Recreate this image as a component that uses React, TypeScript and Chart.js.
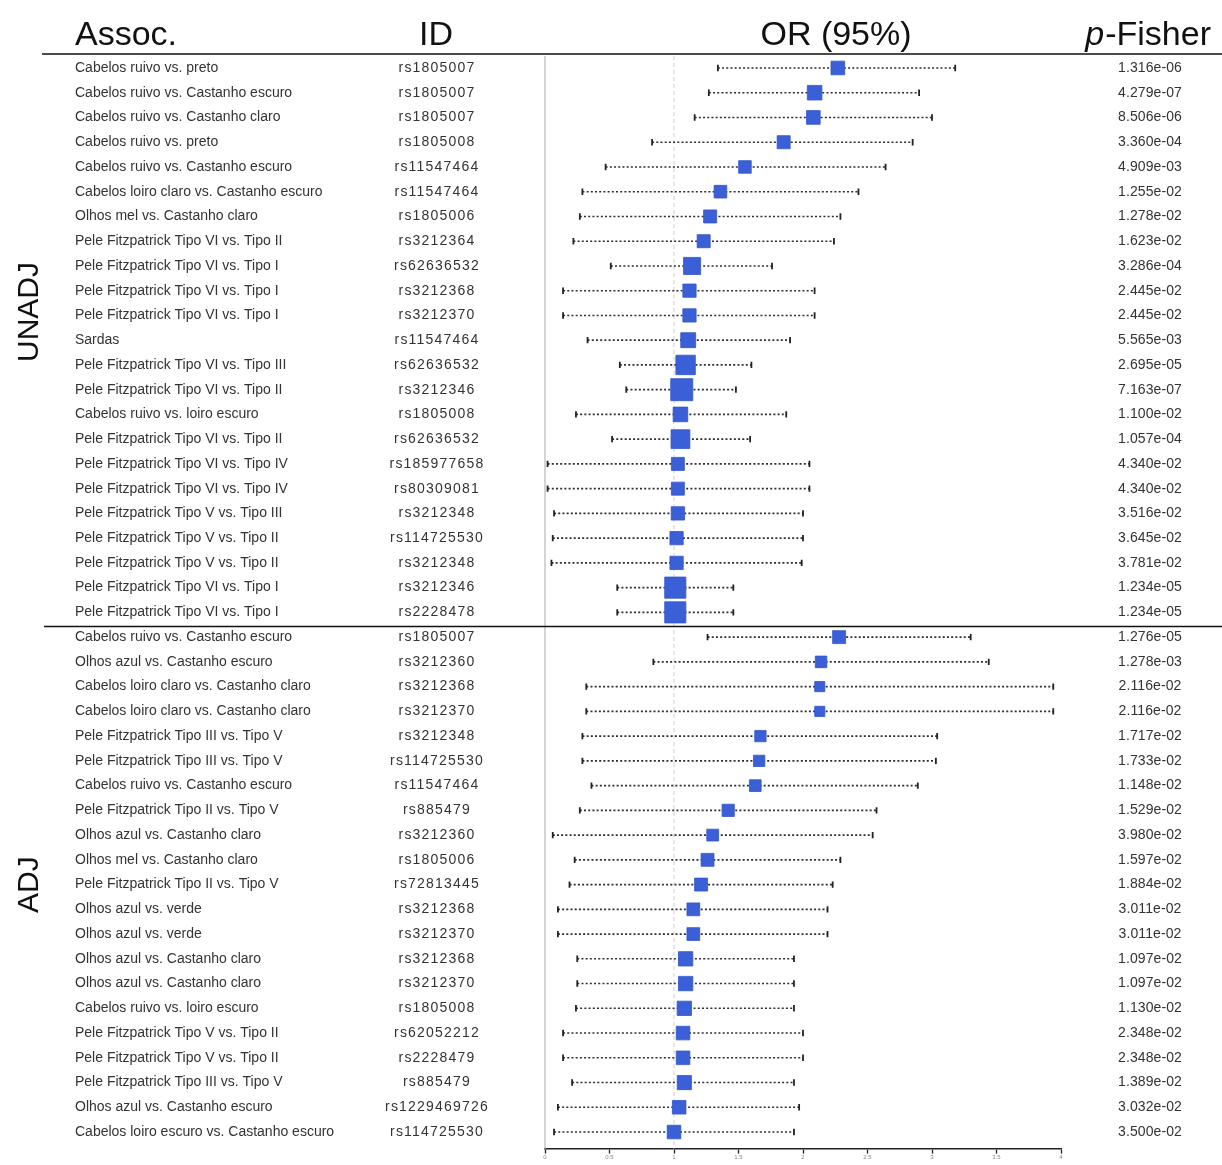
import React, { useEffect, useRef } from 'react';
import { Chart, registerables } from 'chart.js';

Chart.register(...registerables);

// ---------- DATA ----------
const headers = ['Assoc.', 'ID', 'OR (95%)', 'p-Fisher'];
const groupLabels = ['UNADJ', 'ADJ'];
const xTickValues = [0, 0.5, 1, 1.5, 2, 2.5, 3, 3.5, 4];

const unadjAssoc = [
  'Cabelos ruivo vs. preto',
  'Cabelos ruivo vs. Castanho escuro',
  'Cabelos ruivo vs. Castanho claro',
  'Cabelos ruivo vs. preto',
  'Cabelos ruivo vs. Castanho escuro',
  'Cabelos loiro claro vs. Castanho escuro',
  'Olhos mel vs. Castanho claro',
  'Pele Fitzpatrick Tipo VI vs. Tipo II',
  'Pele Fitzpatrick Tipo VI vs. Tipo I',
  'Pele Fitzpatrick Tipo VI vs. Tipo I',
  'Pele Fitzpatrick Tipo VI vs. Tipo I',
  'Sardas',
  'Pele Fitzpatrick Tipo VI vs. Tipo III',
  'Pele Fitzpatrick Tipo VI vs. Tipo II',
  'Cabelos ruivo vs. loiro escuro',
  'Pele Fitzpatrick Tipo VI vs. Tipo II',
  'Pele Fitzpatrick Tipo VI vs. Tipo IV',
  'Pele Fitzpatrick Tipo VI vs. Tipo IV',
  'Pele Fitzpatrick Tipo V vs. Tipo III',
  'Pele Fitzpatrick Tipo V vs. Tipo II',
  'Pele Fitzpatrick Tipo V vs. Tipo II',
  'Pele Fitzpatrick Tipo VI vs. Tipo I',
  'Pele Fitzpatrick Tipo VI vs. Tipo I',
];
const unadjIds = [
  'rs1805007', 'rs1805007', 'rs1805007', 'rs1805008', 'rs11547464', 'rs11547464',
  'rs1805006', 'rs3212364', 'rs62636532', 'rs3212368', 'rs3212370', 'rs11547464',
  'rs62636532', 'rs3212346', 'rs1805008', 'rs62636532', 'rs185977658', 'rs80309081',
  'rs3212348', 'rs114725530', 'rs3212348', 'rs3212346', 'rs2228478',
];
const unadjOR = [2.27, 2.09, 2.08, 1.85, 1.55, 1.36, 1.28, 1.23, 1.14, 1.12, 1.12, 1.11, 1.09, 1.06, 1.05, 1.05, 1.03, 1.03, 1.03, 1.02, 1.02, 1.01, 1.01];
const unadjLow = [1.34, 1.27, 1.16, 0.83, 0.47, 0.29, 0.27, 0.22, 0.51, 0.14, 0.14, 0.33, 0.58, 0.63, 0.24, 0.52, 0.02, 0.02, 0.07, 0.06, 0.05, 0.56, 0.56];
const unadjHigh = [3.18, 2.9, 3.0, 2.85, 2.64, 2.43, 2.29, 2.24, 1.76, 2.09, 2.09, 1.9, 1.6, 1.48, 1.87, 1.59, 2.05, 2.05, 2.0, 2.0, 1.99, 1.46, 1.46];
const unadjP = [
  '1.316e-06', '4.279e-07', '8.506e-06', '3.360e-04', '4.909e-03', '1.255e-02',
  '1.278e-02', '1.623e-02', '3.286e-04', '2.445e-02', '2.445e-02', '5.565e-03',
  '2.695e-05', '7.163e-07', '1.100e-02', '1.057e-04', '4.340e-02', '4.340e-02',
  '3.516e-02', '3.645e-02', '3.781e-02', '1.234e-05', '1.234e-05',
];

const adjAssoc = [
  'Cabelos ruivo vs. Castanho escuro',
  'Olhos azul vs. Castanho escuro',
  'Cabelos loiro claro vs. Castanho claro',
  'Cabelos loiro claro vs. Castanho claro',
  'Pele Fitzpatrick Tipo III vs. Tipo V',
  'Pele Fitzpatrick Tipo III vs. Tipo V',
  'Cabelos ruivo vs. Castanho escuro',
  'Pele Fitzpatrick Tipo II vs. Tipo V',
  'Olhos azul vs. Castanho claro',
  'Olhos mel vs. Castanho claro',
  'Pele Fitzpatrick Tipo II vs. Tipo V',
  'Olhos azul vs. verde',
  'Olhos azul vs. verde',
  'Olhos azul vs. Castanho claro',
  'Olhos azul vs. Castanho claro',
  'Cabelos ruivo vs. loiro escuro',
  'Pele Fitzpatrick Tipo V vs. Tipo II',
  'Pele Fitzpatrick Tipo V vs. Tipo II',
  'Pele Fitzpatrick Tipo III vs. Tipo V',
  'Olhos azul vs. Castanho escuro',
  'Cabelos loiro escuro vs. Castanho escuro',
];
const adjIds = [
  'rs1805007', 'rs3212360', 'rs3212368', 'rs3212370', 'rs3212348', 'rs114725530',
  'rs11547464', 'rs885479', 'rs3212360', 'rs1805006', 'rs72813445', 'rs3212368',
  'rs3212370', 'rs3212368', 'rs3212370', 'rs1805008', 'rs62052212', 'rs2228479',
  'rs885479', 'rs1229469726', 'rs114725530',
];
const adjOR = [2.28, 2.14, 2.13, 2.13, 1.67, 1.66, 1.63, 1.42, 1.3, 1.26, 1.21, 1.15, 1.15, 1.09, 1.09, 1.08, 1.07, 1.07, 1.08, 1.04, 1.0];
const adjLow = [1.26, 0.84, 0.32, 0.32, 0.29, 0.29, 0.36, 0.27, 0.06, 0.23, 0.19, 0.1, 0.1, 0.25, 0.25, 0.24, 0.14, 0.14, 0.21, 0.1, 0.07];
const adjHigh = [3.3, 3.44, 3.94, 3.94, 3.04, 3.03, 2.89, 2.57, 2.54, 2.29, 2.23, 2.19, 2.19, 1.93, 1.93, 1.93, 2.0, 2.0, 1.93, 1.97, 1.93];
const adjP = [
  '1.276e-05', '1.278e-03', '2.116e-02', '2.116e-02', '1.717e-02', '1.733e-02',
  '1.148e-02', '1.529e-02', '3.980e-02', '1.597e-02', '1.884e-02', '3.011e-02',
  '3.011e-02', '1.097e-02', '1.097e-02', '1.130e-02', '2.348e-02', '2.348e-02',
  '1.389e-02', '3.032e-02', '3.500e-02',
];

// ---------- COMBINED ----------
const assoc = [...unadjAssoc, ...adjAssoc];
const ids = [...unadjIds, ...adjIds];
const ors = [...unadjOR, ...adjOR];
const lows = [...unadjLow, ...adjLow];
const highs = [...unadjHigh, ...adjHigh];
const pvals = [...unadjP, ...adjP];

const TEXT_FONT = "'Liberation Sans', Arial, sans-serif";
const BLUE = '#3b5fd6';

export default function App() {
  const ref = useRef<HTMLCanvasElement | null>(null);

  useEffect(() => {
    if (!ref.current) return;
    const nUnadj = unadjOR.length;

    const boxSides = ors.map((_, i) => 6.5 + 13.2 / (highs[i] - lows[i]));

    const whiskerSets = lows.map((lo, i) => ({
      type: 'scatter' as const,
      showLine: true,
      data: [
        { x: lo, y: i },
        { x: highs[i], y: i },
      ],
      borderColor: '#2e2e2e',
      borderWidth: 1.6,
      borderDash: [2, 2.2],
      pointStyle: 'line' as const,
      rotation: 90,
      pointRadius: 3.2,
      pointBorderColor: '#222',
      pointBorderWidth: 1.8,
      pointBackgroundColor: '#222',
      order: 2,
    }));

    const bgPlugin = {
      id: 'forestBg',
      beforeDatasetsDraw(chart: any) {
        const { ctx, chartArea, scales } = chart;
        const x0 = scales.x.getPixelForValue(0);
        const x1 = scales.x.getPixelForValue(1);
        ctx.save();
        ctx.strokeStyle = '#d4d4d4';
        ctx.lineWidth = 2;
        ctx.beginPath();
        ctx.moveTo(x0, chartArea.top + 1);
        ctx.lineTo(x0, chartArea.bottom);
        ctx.stroke();
        ctx.strokeStyle = '#cfcfcf';
        ctx.lineWidth = 1;
        ctx.setLineDash([4, 3]);
        ctx.beginPath();
        ctx.moveTo(x1, chartArea.top + 1);
        ctx.lineTo(x1, chartArea.bottom);
        ctx.stroke();
        ctx.restore();
      },
    };

    const textPlugin = {
      id: 'forestText',
      afterDraw(chart: any) {
        const { ctx, scales } = chart;
        const y = scales.y;
        ctx.save();
        // headers
        ctx.fillStyle = '#111';
        ctx.textBaseline = 'alphabetic';
        ctx.font = `34px ${TEXT_FONT}`;
        ctx.textAlign = 'left';
        ctx.fillText(headers[0], 75, 45);
        ctx.textAlign = 'center';
        ctx.fillText(headers[1], 436, 45);
        ctx.fillText(headers[2], 836, 45);
        // p-Fisher with italic p
        const rest = headers[3].slice(1);
        ctx.textAlign = 'left';
        ctx.font = `34px ${TEXT_FONT}`;
        const wRest = ctx.measureText(rest).width;
        ctx.font = `italic 34px ${TEXT_FONT}`;
        const wP = ctx.measureText(headers[3][0]).width;
        const startX = 1210 - wRest - wP;
        ctx.fillText(headers[3][0], startX, 45);
        ctx.font = `34px ${TEXT_FONT}`;
        ctx.fillText(rest, startX + wP + 1, 45);

        // rules
        ctx.strokeStyle = '#111';
        ctx.lineWidth = 1.6;
        ctx.beginPath();
        ctx.moveTo(42, 54);
        ctx.lineTo(1222, 54);
        const sepY = Math.round(y.getPixelForValue(nUnadj - 0.5)) + 1.5;
        ctx.moveTo(44, sepY);
        ctx.lineTo(1222, sepY);
        ctx.stroke();

        // group labels
        ctx.font = `30px ${TEXT_FONT}`;
        ctx.textAlign = 'center';
        ctx.textBaseline = 'middle';
        ctx.fillStyle = '#111';
        ctx.save();
        ctx.translate(30, 312);
        ctx.rotate(-Math.PI / 2);
        ctx.fillText(groupLabels[0], 0, 0);
        ctx.restore();
        ctx.save();
        ctx.translate(30, y.getPixelForValue(nUnadj + (adjOR.length - 1) / 2));
        ctx.rotate(-Math.PI / 2);
        ctx.fillText(groupLabels[1], 0, 0);
        ctx.restore();

        // row texts
        ctx.fillStyle = '#333';
        ctx.textBaseline = 'middle';
        for (let i = 0; i < assoc.length; i++) {
          const py = y.getPixelForValue(i);
          ctx.font = `14px ${TEXT_FONT}`;
          ctx.textAlign = 'left';
          (ctx as any).letterSpacing = '0px';
          ctx.fillText(assoc[i], 75, py);
          ctx.textAlign = 'center';
          (ctx as any).letterSpacing = '1.2px';
          ctx.fillText(ids[i], 437, py);
          (ctx as any).letterSpacing = '0.1px';
          ctx.fillText(pvals[i], 1150, py);
        }
        (ctx as any).letterSpacing = '0px';
        ctx.restore();
      },
    };

    const chart = new Chart(ref.current, {
      type: 'scatter',
      data: {
        datasets: [
          {
            type: 'scatter',
            data: ors.map((v, i) => ({ x: v, y: i })),
            pointStyle: 'rect',
            pointRadius: boxSides.map((s) => s / Math.SQRT2),
            backgroundColor: BLUE,
            borderColor: '#3356cc',
            borderWidth: 0.8,
            order: 0,
          } as any,
          ...(whiskerSets as any[]),
        ],
      },
      options: {
        animation: false,
        responsive: false,
        maintainAspectRatio: false,
        events: [],
        layout: { padding: { left: 545, right: 161, top: 55, bottom: -2 } },
        plugins: {
          legend: { display: false },
          tooltip: { enabled: false },
        },
        scales: {
          x: {
            type: 'linear',
            position: 'bottom',
            min: xTickValues[0],
            max: xTickValues[xTickValues.length - 1],
            afterBuildTicks: (scale: any) => {
              scale.ticks = xTickValues.map((v) => ({ value: v }));
            },
            ticks: {
              font: { size: 6, family: TEXT_FONT },
              color: '#888',
              padding: 0,
              maxRotation: 0,
              autoSkip: false,
              callback: (v: any) => String(v),
            },
            grid: {
              drawOnChartArea: false,
              drawTicks: true,
              tickLength: 5,
              tickColor: '#222',
              tickWidth: 1.3,
            },
            border: { color: '#222', width: 1.6 },
          },
          y: {
            type: 'linear',
            display: false,
            reverse: true,
            min: -0.524,
            max: 43.67,
          },
        },
      },
      plugins: [bgPlugin, textPlugin],
    });

    return () => chart.destroy();
  }, []);

  return (
    <div style={{ position: 'absolute', left: 0, top: 0, width: 1222, height: 1165, background: '#fff' }}>
      <canvas ref={ref} width={1222} height={1165} style={{ display: 'block', width: 1222, height: 1165 }} />
    </div>
  );
}
